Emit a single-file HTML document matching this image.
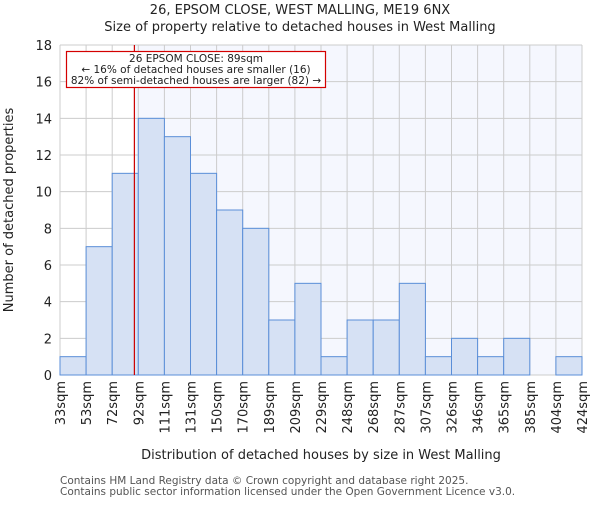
<!DOCTYPE html>
<html><head><meta charset="utf-8"><style>
body{margin:0;background:#fff;}
svg text{font-family:"DejaVu Sans","Liberation Sans",sans-serif;}
</style></head><body>
<svg width="600" height="500" xmlns="http://www.w3.org/2000/svg">
<g id="chart"></g>
</svg>
<script>
const binLabels=["33sqm","53sqm","72sqm","92sqm","111sqm","131sqm","150sqm","170sqm","189sqm","209sqm","229sqm","248sqm","268sqm","287sqm","307sqm","326sqm","346sqm","365sqm","385sqm","404sqm","424sqm"];
const counts=[1,7,11,14,13,11,9,8,3,5,1,3,3,5,1,2,1,2,0,1];
const yTicks=[0,2,4,6,8,10,12,14,16,18];
const markerValue=89;
const binEdges=[33,53,72,92,111,131,150,170,189,209,229,248,268,287,307,326,346,365,385,404,424];
const X0=60,X1=582,Y0=375,Y1=45,YMAX=18;
const ns="http://www.w3.org/2000/svg";
const g=document.getElementById('chart');
const bw=(X1-X0)/counts.length;
const xi=i=>X0+i*bw;
const y=v=>Y0-(Y0-Y1)*v/YMAX;
function mk(t,a,p){const e=document.createElementNS(ns,t);for(const k in a)e.setAttribute(k,a[k]);(p||g).appendChild(e);return e;}
function xv(v){for(let i=0;i<binEdges.length-1;i++){if(v<=binEdges[i+1])return xi(i)+bw*(v-binEdges[i])/(binEdges[i+1]-binEdges[i]);}return X1;}
const mx=xv(markerValue);
let bg=mk('rect',{x:X0,y:Y1,width:X1-X0,height:Y0-Y1,fill:'#fff'});


let bg2=mk('rect',{x:mx,y:Y1,width:X1-mx,height:Y0-Y1,fill:'#f5f7fe'});


yTicks.forEach(t=>{
 let l=mk('line',{x1:X0,x2:X1,y1:y(t),y2:y(t),stroke:'#cccccc','stroke-width':1});
 
 
 let tx=mk('text',{x:X0-8,y:y(t)+5,'text-anchor':'end','font-size':13,fill:'#222'});
 tx.textContent=t;
 
 
});
binLabels.forEach((s,i)=>{
 let l=mk('line',{x1:xi(i),x2:xi(i),y1:Y1,y2:Y0,stroke:'#cccccc','stroke-width':1});
 
 
 let tx=mk('text',{transform:`translate(${xi(i)+5},381) rotate(-90)`,'text-anchor':'end','font-size':13,fill:'#222'});
 tx.textContent=s;
 
 
});
counts.forEach((c,i)=>{
 let r=mk('rect',{x:xi(i),y:y(c),width:bw,height:Y0-y(c),fill:'#d6e1f4',stroke:'#5a8ed8','stroke-width':1});
 
 
});
let ml=mk('line',{x1:mx,x2:mx,y1:Y1,y2:Y0,stroke:'#cc0000','stroke-width':1.2});


let box=mk('rect',{x:66.5,y:51.5,width:259,height:36,fill:'#fff',stroke:'#d40000','stroke-width':1.2});


["26 EPSOM CLOSE: 89sqm","← 16% of detached houses are smaller (16)","82% of semi-detached houses are larger (82) →"].forEach((s,i)=>{
 let t=mk('text',{x:196,y:62+i*11,'text-anchor':'middle','font-size':10.5,fill:'#222'});
 t.textContent=s;
 
 
});
const texts=[
 ["26, EPSOM CLOSE, WEST MALLING, ME19 6NX",300,14,13,'#222','chart-title'],
 ["Size of property relative to detached houses in West Malling",300,31,13,'#222','chart-subtitle'],
 ["Distribution of detached houses by size in West Malling",321,459,13,'#222','x-axis-title'],
 ["Contains HM Land Registry data © Crown copyright and database right 2025.",60,484,10.5,'#555','footer-line-1'],
 ["Contains public sector information licensed under the Open Government Licence v3.0.",60,495,10.5,'#555','footer-line-2']];
texts.forEach(([s,x,yy,fs,c,n])=>{
 let t=mk('text',{x:x,y:yy,'text-anchor':x===60?'start':'middle','font-size':fs,fill:c});
 t.textContent=s;
 
 
});
let yt=mk('text',{transform:'translate(13,210) rotate(-90)','text-anchor':'middle','font-size':13,fill:'#222'});
yt.textContent="Number of detached properties";


</script>
</body></html>
